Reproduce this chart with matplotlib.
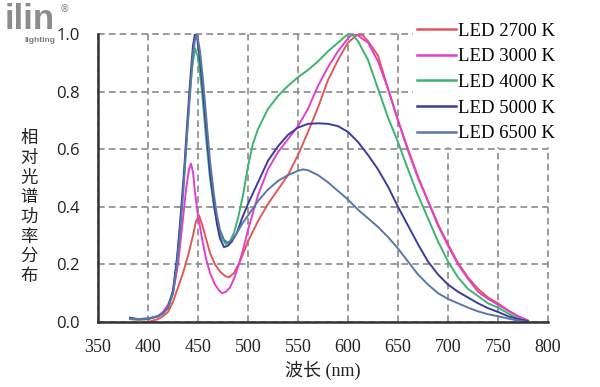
import matplotlib
matplotlib.use("Agg")
import matplotlib.pyplot as plt

# ---- data ----
wl_2700 = [400, 410, 415, 420, 425, 430, 435, 440, 445, 448, 451, 454, 458, 462, 467, 472, 477, 481, 486, 492,
           500, 510, 520, 530, 540, 550, 560, 570, 580, 590, 600, 610, 615, 620, 630, 640, 650, 660, 670, 680,
           690, 700, 710, 720, 730, 740, 750, 760, 770, 780]
val_2700 = [0.0, 0.01, 0.02, 0.035, 0.07, 0.12, 0.17, 0.23, 0.30, 0.35, 0.37, 0.34, 0.29, 0.24, 0.20, 0.175, 0.16, 0.155, 0.17, 0.21,
            0.28, 0.35, 0.41, 0.46, 0.51, 0.58, 0.66, 0.745, 0.84, 0.91, 0.97, 1.0, 0.995, 0.975, 0.925, 0.81, 0.70, 0.60, 0.505, 0.42,
            0.34, 0.27, 0.205, 0.155, 0.115, 0.085, 0.065, 0.04, 0.02, 0.005]

wl_3000 = [382, 390, 400, 410, 415, 420, 425, 430, 435, 438, 441, 443, 445, 447, 450, 454, 458, 462, 467, 471,
           474, 478, 482, 486, 490, 495, 500, 510, 520, 530, 540, 550, 560, 570, 580, 590, 600, 605, 610, 620,
           630, 640, 650, 660, 670, 680, 690, 700, 710, 720, 730, 740, 750, 760, 770, 780]
val_3000 = [0.01, 0.008, 0.01, 0.02, 0.035, 0.06, 0.10, 0.20, 0.36, 0.46, 0.53, 0.55, 0.52, 0.45, 0.37, 0.29, 0.22, 0.17, 0.13, 0.11,
            0.10, 0.105, 0.12, 0.15, 0.19, 0.25, 0.32, 0.44, 0.53, 0.59, 0.635, 0.68, 0.74, 0.82, 0.885, 0.94, 0.985, 1.0, 0.995, 0.97,
            0.905, 0.81, 0.70, 0.595, 0.50, 0.42, 0.335, 0.265, 0.20, 0.15, 0.105, 0.08, 0.06, 0.04, 0.02, 0.005]

wl_4000 = [382, 390, 400, 410, 415, 420, 425, 430, 435, 440, 444, 447, 450, 454, 458, 462, 466, 470, 474, 478,
           482, 486, 490, 495, 500, 505, 510, 520, 530, 540, 550, 560, 570, 580, 590, 600, 605, 610, 620, 630,
           640, 650, 660, 670, 680, 690, 700, 710, 720, 730, 740, 750, 760, 770, 780]
val_4000 = [0.012, 0.008, 0.01, 0.02, 0.03, 0.05, 0.10, 0.25, 0.45, 0.70, 0.88, 0.95, 0.92, 0.80, 0.64, 0.50, 0.40, 0.33, 0.29, 0.27,
            0.28, 0.31, 0.36, 0.44, 0.54, 0.62, 0.67, 0.74, 0.785, 0.82, 0.85, 0.875, 0.905, 0.94, 0.97, 1.0, 0.995, 0.975, 0.91, 0.81,
            0.71, 0.625, 0.53, 0.44, 0.36, 0.28, 0.21, 0.155, 0.115, 0.09, 0.065, 0.05, 0.03, 0.012, 0.0]

wl_5000 = [382, 390, 400, 410, 415, 420, 425, 429, 432, 436, 439, 442, 445, 447, 449, 452, 455, 459, 462, 466,
           469, 472, 476, 480, 484, 489, 494, 500, 510, 520, 530, 540, 550, 560, 570, 580, 590, 600, 610, 620,
           630, 640, 650, 660, 670, 680, 690, 700, 710, 720, 730, 740, 750, 760, 770, 780]
val_5000 = [0.015, 0.01, 0.012, 0.02, 0.03, 0.05, 0.11, 0.22, 0.34, 0.52, 0.68, 0.83, 0.96, 1.0, 0.99, 0.91, 0.80, 0.64, 0.52, 0.41,
            0.34, 0.29, 0.26, 0.265, 0.28, 0.31, 0.36, 0.41, 0.485, 0.56, 0.61, 0.65, 0.675, 0.688, 0.69, 0.688, 0.68, 0.66, 0.625, 0.58,
            0.53, 0.47, 0.40, 0.335, 0.27, 0.21, 0.165, 0.13, 0.105, 0.085, 0.065, 0.048, 0.035, 0.02, 0.01, 0.003]

wl_6500 = [382, 390, 400, 410, 415, 420, 425, 429, 432, 436, 439, 442, 445, 447, 449, 452, 455, 459, 462, 466,
           469, 472, 476, 480, 484, 489, 494, 500, 510, 520, 530, 540, 550, 555, 560, 570, 580, 590, 600, 610,
           620, 630, 640, 650, 660, 670, 680, 690, 700, 710, 720, 730, 740, 750, 760, 770, 780]
val_6500 = [0.012, 0.01, 0.012, 0.02, 0.03, 0.05, 0.10, 0.20, 0.31, 0.49, 0.65, 0.80, 0.93, 0.98, 1.0, 0.94, 0.84, 0.68, 0.56, 0.44,
            0.37, 0.32, 0.285, 0.275, 0.285, 0.31, 0.34, 0.37, 0.42, 0.46, 0.49, 0.51, 0.525, 0.53, 0.527, 0.51, 0.485, 0.455, 0.425, 0.39,
            0.36, 0.33, 0.295, 0.255, 0.21, 0.165, 0.13, 0.10, 0.08, 0.065, 0.05, 0.037, 0.027, 0.02, 0.012, 0.005, 0.0]

labels = ["LED 2700 K", "LED 3000 K", "LED 4000 K", "LED 5000 K", "LED 6500 K"]
colors = ["#e0585a", "#e040d0", "#3cb371", "#3c3c9c", "#5b77a8"]
x_ticks = [350, 400, 450, 500, 550, 600, 650, 700, 750, 800]
y_ticks = [0.0, 0.2, 0.4, 0.6, 0.8, 1.0]
xlabel = "波长 (nm)"
ylabel = "相对光谱功率分布"

W, H = 600, 387
fig = plt.figure(figsize=(W / 100, H / 100), dpi=100)
ax = fig.add_axes([98 / W, 1 - 322 / H, (548 - 98) / W, (322 - 34) / H])

series = [(wl_2700, val_2700), (wl_3000, val_3000), (wl_4000, val_4000),
          (wl_5000, val_5000), (wl_6500, val_6500)]
for (wl, v), lab, c in zip(series, labels, colors):
    ax.plot(wl, v, color=c, lw=1.4, label=lab, zorder=3)

ax.set_xlim(350, 800)
ax.set_ylim(0, 1.0)
ax.set_xticks(x_ticks)
ax.set_yticks(y_ticks)
ax.set_xticklabels([str(t) for t in x_ticks], family="Liberation Serif", fontsize=13, color="#222222")
ax.set_yticklabels([f"{t:.1f}" for t in y_ticks], family="Open Sans", fontsize=12, color="#222222")
ax.tick_params(axis="both", length=0)
ax.tick_params(axis="x", pad=12)
ax.tick_params(axis="y", pad=13)

ax.grid(True, color="#8a8a8a", linestyle=(0, (4, 2.5)), lw=1.2, zorder=1)
for g in ax.get_xgridlines() + ax.get_ygridlines():
    g.set_clip_on(False)
for s in ["top", "right"]:
    ax.spines[s].set_visible(False)
for s in ["left", "bottom"]:
    ax.spines[s].set_color("#333333")
    ax.spines[s].set_linewidth(1.8)
    ax.spines[s].set_zorder(4)

ax.set_xlabel(xlabel, family=["Liberation Serif", "Noto Sans CJK SC"], fontsize=13, labelpad=4, color="#222222")

fig.text(29 / W, 1 - 207 / H, "\n".join(ylabel), family="Noto Sans CJK SC", fontsize=12.5,
         ha="center", va="center", linespacing=1.12, color="#222222")

leg = ax.legend(loc="upper left", bbox_to_anchor=(413 / W, 1 - 19 / H), bbox_transform=fig.transFigure,
                prop={"family": "Liberation Serif", "size": 13.5}, frameon=True, fancybox=False,
                handlelength=2.1, handletextpad=0.1, labelspacing=0.45, borderpad=0.2, borderaxespad=0)
leg.get_frame().set_facecolor("white")
leg.get_frame().set_edgecolor("white")
leg.get_frame().set_alpha(1.0)
leg.set_zorder(5)
for line in leg.get_lines():
    line.set_linewidth(1.8)

# watermark logo
fig.text(5 / W, 1 - 29 / H, "ilin", family="Liberation Sans", fontweight="bold", fontsize=25,
         color="#8c8c8c", ha="left", va="baseline")
fig.text(24 / W, 1 - 37 / H, "lighting", family="Liberation Sans", fontweight="bold", fontsize=6,
         color="#7c7c7c", ha="left", va="top")
fig.text(60 / W, 1 - 4 / H, "®", family="DejaVu Sans", fontsize=7, color="#7c7c7c", ha="left", va="top")

fig.savefig("out.png", dpi=100, facecolor="white")
